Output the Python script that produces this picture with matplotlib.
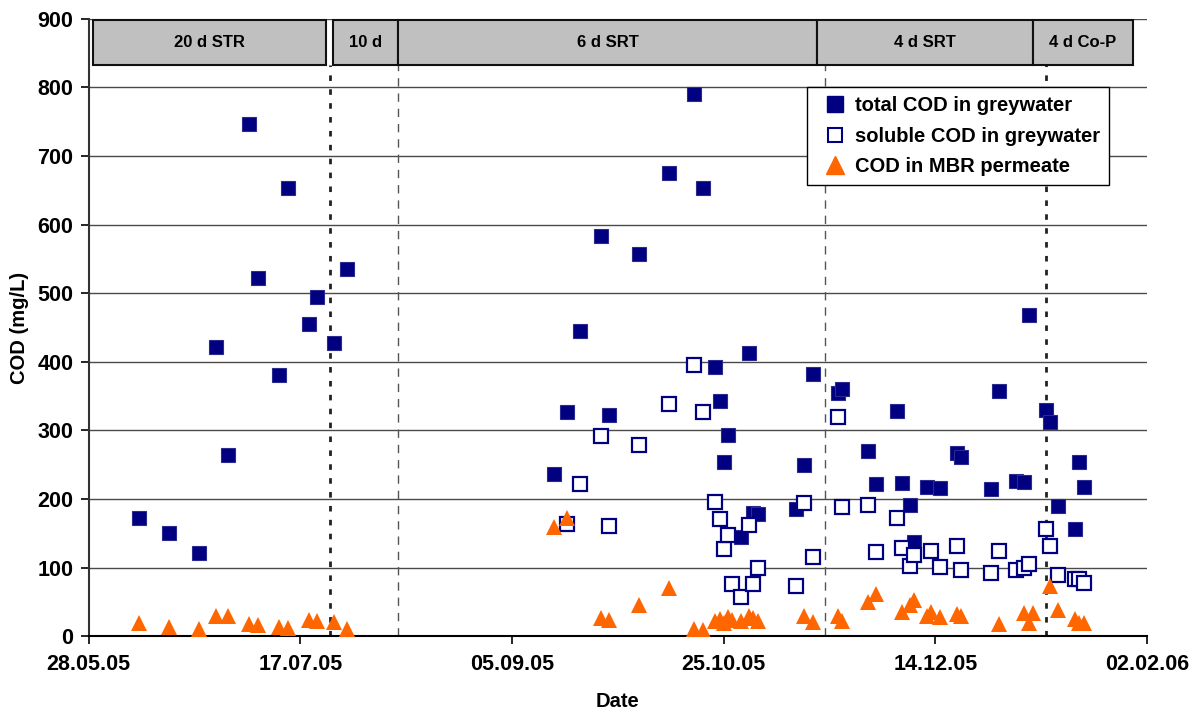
import pandas as pd
import numpy as np
import matplotlib
matplotlib.use('Agg')
import matplotlib.pyplot as plt
import matplotlib.dates as mdates
from matplotlib.patches import Rectangle
from matplotlib.lines import Line2D

plt.rcParams['font.family'] = ['Liberation Sans', 'DejaVu Sans']
plt.rcParams['font.weight'] = 'bold'

# total COD in greywater
tot_dates = ['09.06.05', '16.06.05', '23.06.05', '27.06.05', '30.06.05', '05.07.05', '07.07.05',
             '12.07.05', '14.07.05', '19.07.05', '21.07.05', '25.07.05', '28.07.05',
             '15.09.05', '18.09.05', '21.09.05', '26.09.05', '28.09.05', '05.10.05', '12.10.05',
             '18.10.05', '20.10.05', '23.10.05', '24.10.05', '25.10.05', '26.10.05', '29.10.05',
             '31.10.05', '01.11.05', '02.11.05', '11.11.05', '13.11.05', '15.11.05', '21.11.05',
             '22.11.05', '28.11.05', '30.11.05', '05.12.05', '06.12.05', '08.12.05', '09.12.05',
             '12.12.05', '15.12.05', '19.12.05', '20.12.05', '27.12.05', '29.12.05', '02.01.06',
             '04.01.06', '05.01.06', '09.01.06', '10.01.06', '12.01.06', '16.01.06', '17.01.06',
             '18.01.06']
tot_cod = [173, 151, 122, 421, 265, 747, 523,
           381, 653, 455, 494, 427, 535,
           237, 327, 445, 584, 322, 558, 676,
           791, 654, 393, 343, 254, 294, 145,
           413, 180, 178, 186, 250, 383, 355,
           361, 270, 222, 329, 223, 191, 138,
           218, 216, 267, 262, 215, 357, 227,
           225, 469, 330, 313, 190, 156, 254,
           217]

# soluble COD in greywater
sol_dates = ['18.09.05', '21.09.05', '26.09.05', '28.09.05', '05.10.05', '12.10.05', '18.10.05',
             '20.10.05', '23.10.05', '24.10.05', '25.10.05', '26.10.05', '27.10.05', '29.10.05',
             '31.10.05', '01.11.05', '02.11.05', '11.11.05', '13.11.05', '15.11.05', '21.11.05',
             '22.11.05', '28.11.05', '30.11.05', '05.12.05', '06.12.05', '08.12.05', '09.12.05',
             '13.12.05', '15.12.05', '19.12.05', '20.12.05', '27.12.05', '29.12.05', '02.01.06',
             '04.01.06', '05.01.06', '09.01.06', '10.01.06', '12.01.06', '16.01.06', '17.01.06',
             '18.01.06']
sol_cod = [164, 222, 292, 161, 279, 339, 396,
           327, 196, 171, 127, 148, 76, 57,
           162, 76, 99, 74, 195, 116, 319,
           188, 192, 123, 172, 128, 103, 118,
           125, 101, 132, 97, 92, 124, 97,
           100, 105, 156, 132, 89, 84, 83,
           77]

# COD in MBR permeate
perm_dates = ['09.06.05', '16.06.05', '23.06.05', '27.06.05', '30.06.05', '05.07.05', '07.07.05',
              '12.07.05', '14.07.05', '19.07.05', '21.07.05', '25.07.05', '28.07.05',
              '15.09.05', '18.09.05', '26.09.05', '28.09.05', '05.10.05', '12.10.05', '18.10.05',
              '20.10.05', '23.10.05', '24.10.05', '25.10.05', '26.10.05', '27.10.05', '29.10.05',
              '31.10.05', '01.11.05', '02.11.05', '13.11.05', '15.11.05', '21.11.05', '22.11.05',
              '28.11.05', '30.11.05', '06.12.05', '08.12.05', '09.12.05', '12.12.05', '13.12.05',
              '15.12.05', '19.12.05', '20.12.05', '29.12.05', '04.01.06', '05.01.06', '06.01.06',
              '10.01.06', '12.01.06', '16.01.06', '17.01.06', '18.01.06']
perm_cod = [19, 13, 11, 29, 30, 18, 17,
            13, 12, 24, 22, 21, 11,
            160, 173, 26, 24, 46, 70, 11,
            9, 22, 25, 20, 28, 24, 22,
            30, 27, 22, 29, 21, 30, 22,
            50, 62, 35, 46, 53, 30, 35,
            28, 33, 29, 18, 34, 20, 34,
            74, 38, 25, 20, 19]

# operating phases (label, start day, end day counted from 28.05.05)
phases = [('20 d STR', 1.1, 56.1), ('10 d', 57.8, 73.1), ('6 d SRT', 73.1, 172.0),
          ('4 d SRT', 172.0, 223.0), ('4 d Co-P', 223.0, 246.6)]
dotted_lines = ['24.07.05', '09.01.06']
dashed_lines = ['09.08.05', '18.11.05']

navy = '#000080'
orange = '#FF6600'


def to_dates(lst):
    return pd.to_datetime(lst, format='%d.%m.%y')


if __name__ == '__main__':
    fig = plt.figure(figsize=(11.95, 7.1), dpi=100)
    ax = fig.add_axes([0.0741, 0.1038, 0.8859, 0.8696])

    start = pd.Timestamp('2005-05-28')
    ticks = pd.date_range(start, periods=6, freq='50D')
    ax.set_xlim(ticks[0], ticks[-1])
    ax.set_ylim(0, 900)

    ax.set_yticks(np.arange(0, 901, 100))
    ax.grid(axis='y', color='#4a4a4a', linewidth=1, zorder=0)
    ax.set_axisbelow(True)

    for d in dotted_lines:
        ax.plot([to_dates([d])[0]] * 2, [0, 833], color='#222222', lw=2,
                linestyle=(0, (2, 3)), zorder=1)
    for d in dashed_lines:
        ax.plot([to_dates([d])[0]] * 2, [0, 833], color='#555555', lw=1,
                linestyle=(0, (6, 5)), zorder=1)

    ax.plot(to_dates(tot_dates), tot_cod, 's', color=navy, markersize=10,
            markeredgecolor='#2a2a90', markeredgewidth=0.8, zorder=3)
    ax.plot(to_dates(sol_dates), sol_cod, 's', markerfacecolor='white', markeredgecolor=navy,
            markersize=9.5, markeredgewidth=1.6, zorder=4)
    ax.plot(to_dates(perm_dates), perm_cod, '^', color=orange, markersize=11.5,
            markeredgewidth=0, zorder=5)

    for label, d0, d1 in phases:
        x0 = mdates.date2num(start + pd.Timedelta(days=d0))
        x1 = mdates.date2num(start + pd.Timedelta(days=d1))
        ax.add_patch(Rectangle((x0, 833), x1 - x0, 66, facecolor='#c0c0c0',
                               edgecolor='#111111', lw=1.5, zorder=6, clip_on=False))
        ax.text((x0 + x1) / 2, 866, label, ha='center', va='center', fontsize=12,
                fontweight='bold', zorder=7)

    ax.set_xticks(ticks)
    ax.xaxis.set_major_formatter(mdates.DateFormatter('%d.%m.%y'))
    ax.tick_params(axis='both', direction='out', length=6, width=1.2, labelsize=15.5)
    ax.tick_params(axis='x', pad=7)
    ax.tick_params(axis='y', pad=5)
    for lbl in ax.get_xticklabels() + ax.get_yticklabels():
        lbl.set_fontweight('bold')

    ax.spines['top'].set_visible(False)
    ax.spines['right'].set_visible(False)
    ax.spines['left'].set_linewidth(1.5)
    ax.spines['bottom'].set_linewidth(1.5)
    ax.spines['left'].set_color('#333333')

    ax.set_xlabel('Date', fontsize=14.5, fontweight='bold', labelpad=12)
    ax.set_ylabel('COD (mg/L)', fontsize=14.5, fontweight='bold', labelpad=6)

    handles = [
        Line2D([], [], marker='s', linestyle='none', color=navy, markersize=11),
        Line2D([], [], marker='s', linestyle='none', markerfacecolor='white',
               markeredgecolor=navy, markeredgewidth=1.5, markersize=10.5),
        Line2D([], [], marker='^', linestyle='none', color=orange, markersize=12.5),
    ]
    leg = ax.legend(handles, ['total COD in greywater', 'soluble COD in greywater',
                              'COD in MBR permeate'],
                    loc='upper left', bbox_to_anchor=(0.679, 0.889), borderaxespad=0,
                    fancybox=False, edgecolor='black', framealpha=1,
                    prop={'size': 14.5, 'weight': 'bold'}, handlelength=1.8,
                    handletextpad=0.1, labelspacing=0.55, borderpad=0.45)
    leg.get_frame().set_linewidth(1.0)
    leg.set_zorder(8)

    plt.savefig('out.png', dpi=100)
